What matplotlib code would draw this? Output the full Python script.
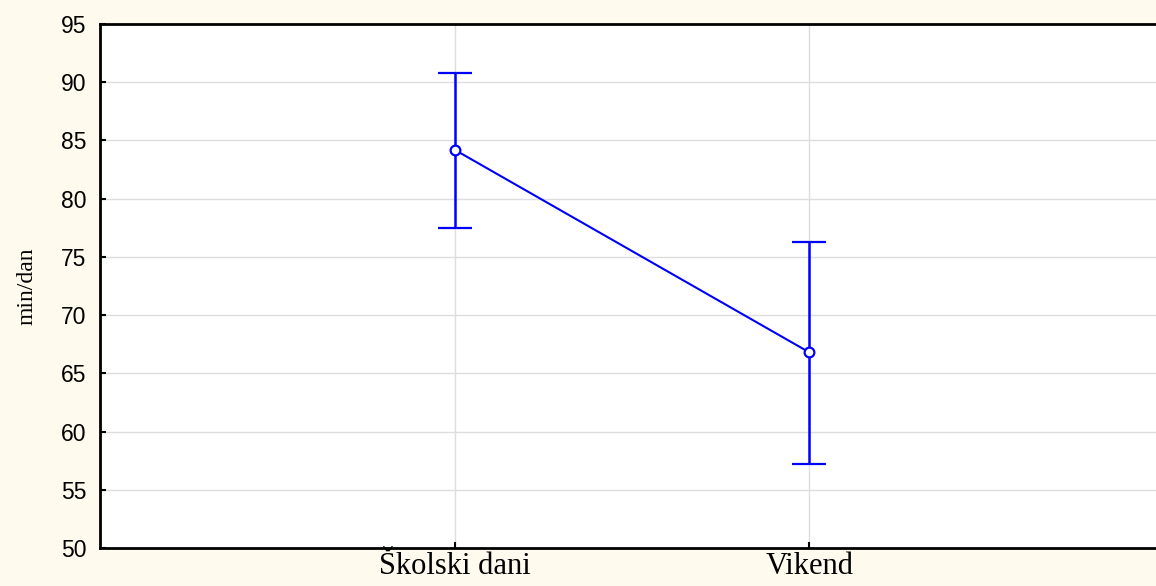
import matplotlib.pyplot as plt
import numpy as np

# ── data ──────────────────────────────────────────────────────────────────────
categories = ["Školski dani", "Vikend"]
means      = [84.2, 66.8]
upper      = [90.8, 76.3]
lower      = [77.5, 57.2]

# ── plot ──────────────────────────────────────────────────────────────────────
BG = "#FFFAEE"
fig = plt.figure(figsize=(11.56, 5.86), dpi=100, facecolor=BG)
ax = fig.add_axes([100 / 1156, 1 - 548 / 586, 1064 / 1156, 524 / 586])
ax.set_facecolor("white")

x = np.arange(len(categories))
m = np.array(means)
yerr = [m - np.array(lower), np.array(upper) - m]

ax.errorbar(x, m, yerr=yerr, color="#0000FF", linewidth=1.5, elinewidth=1.8,
            capsize=12, capthick=1.8, marker="o", markersize=7,
            markerfacecolor="white", markeredgecolor="#0000FF", markeredgewidth=1.6,
            zorder=3)

ax.set_xlim(-1, 2)
ax.set_ylim(50, 95)
ax.set_xticks(x)
ax.set_xticklabels(categories, family="Liberation Serif", fontsize=22)
ax.set_yticks(np.arange(50, 96, 5))
ax.tick_params(axis="y", labelsize=16.5, direction="in", length=4, width=1.5, pad=10)
ax.tick_params(axis="x", direction="in", length=4, width=1.5, pad=3)
for lab in ax.get_yticklabels():
    lab.set_family("Liberation Sans")

ax.grid(True, color="#DDDDDD", linewidth=1)
ax.set_axisbelow(True)
for s in ax.spines.values():
    s.set_linewidth(2)
    s.set_color("black")

ax.set_ylabel("min/dan", family="Liberation Serif", fontsize=17)
ax.yaxis.set_label_coords(-62 / 1064, 0.5)

plt.savefig("out.png", dpi=100, facecolor=BG)
